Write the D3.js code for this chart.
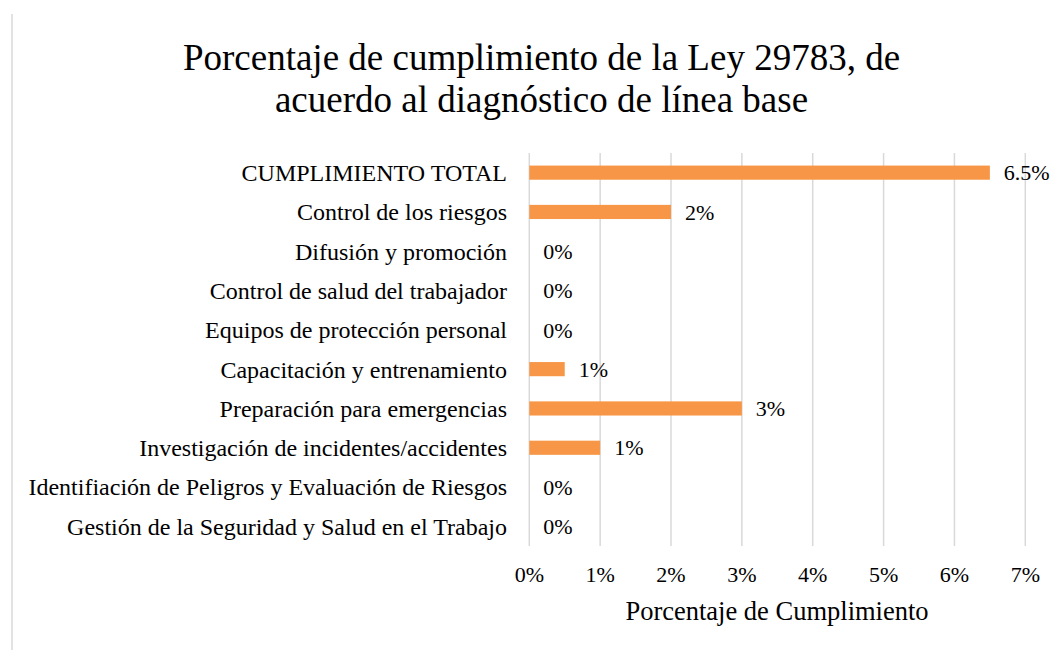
<!DOCTYPE html>
<html><head><meta charset="utf-8">
<script src="https://cdn.jsdelivr.net/npm/d3@7"></script>
<style>body{margin:0;background:#fff}svg{display:block}text{font-family:"Liberation Serif","Times New Roman",serif;fill:#000}</style>
</head><body><svg id="c" width="1059" height="650"></svg>
<script>
const categories = ["CUMPLIMIENTO TOTAL","Control de los riesgos","Difusión y promoción","Control de salud del trabajador","Equipos de protección personal","Capacitación y entrenamiento","Preparación para emergencias","Investigación de incidentes/accidentes","Identifiación de Peligros y Evaluación de Riesgos","Gestión de la Seguridad y Salud en el Trabajo"];
const values = [6.5, 2, 0, 0, 0, 0.5, 3, 1, 0, 0];
const valueLabels = ["6.5%","2%","0%","0%","0%","1%","3%","1%","0%","0%"];
const xTicks = [0,1,2,3,4,5,6,7];
const titleLines = ["Porcentaje de cumplimiento de la Ley 29783, de","acuerdo al diagnóstico de línea base"];
const xTitle = "Porcentaje de Cumplimiento";

const svg = d3.select("#c");
const x = d3.scaleLinear().domain([0,7]).range([529.3,1025.3]);
const y = d3.scaleBand().domain(categories).range([153,546]).paddingInner(0.64).paddingOuter(0.32);

svg.append("line").attr("x1",12).attr("x2",12).attr("y1",14).attr("y2",650).attr("stroke","#d9d9d9").attr("stroke-width",1.5);

svg.append("g").selectAll("text").data(titleLines).join("text")
  .attr("x",541.5).attr("y",(d,i)=>69.5+i*42.5).attr("text-anchor","middle").style("font-size","37px").text(d=>d);

svg.append("g").selectAll("line").data(xTicks).join("line")
  .attr("x1",d=>x(d)).attr("x2",d=>x(d)).attr("y1",153).attr("y2",546)
  .attr("stroke","#d9d9d9").attr("stroke-width",1.5);

svg.append("g").selectAll("rect").data(values).join("rect")
  .attr("x",x(0)).attr("y",(d,i)=>y(categories[i])).attr("width",d=>x(d)-x(0)).attr("height",y.bandwidth())
  .attr("fill","#F79646");

svg.append("g").selectAll("text").data(values).join("text")
  .attr("x",d=>x(d)+14).attr("y",(d,i)=>y(categories[i])+y.bandwidth()/2).attr("dy","0.35em")
  .style("font-size","22px").text((d,i)=>valueLabels[i]);

svg.append("g").selectAll("text").data(categories).join("text")
  .attr("x",507).attr("y",d=>y(d)+y.bandwidth()/2).attr("dy","0.35em").attr("text-anchor","end")
  .style("font-size","24px").text(d=>d);

svg.append("g").selectAll("text").data(xTicks).join("text")
  .attr("x",d=>x(d)).attr("y",582).attr("text-anchor","middle").style("font-size","22px").text(d=>d+"%");

svg.append("text").attr("x",777).attr("y",620).attr("text-anchor","middle").style("font-size","26.5px").text(xTitle);
</script></body></html>
